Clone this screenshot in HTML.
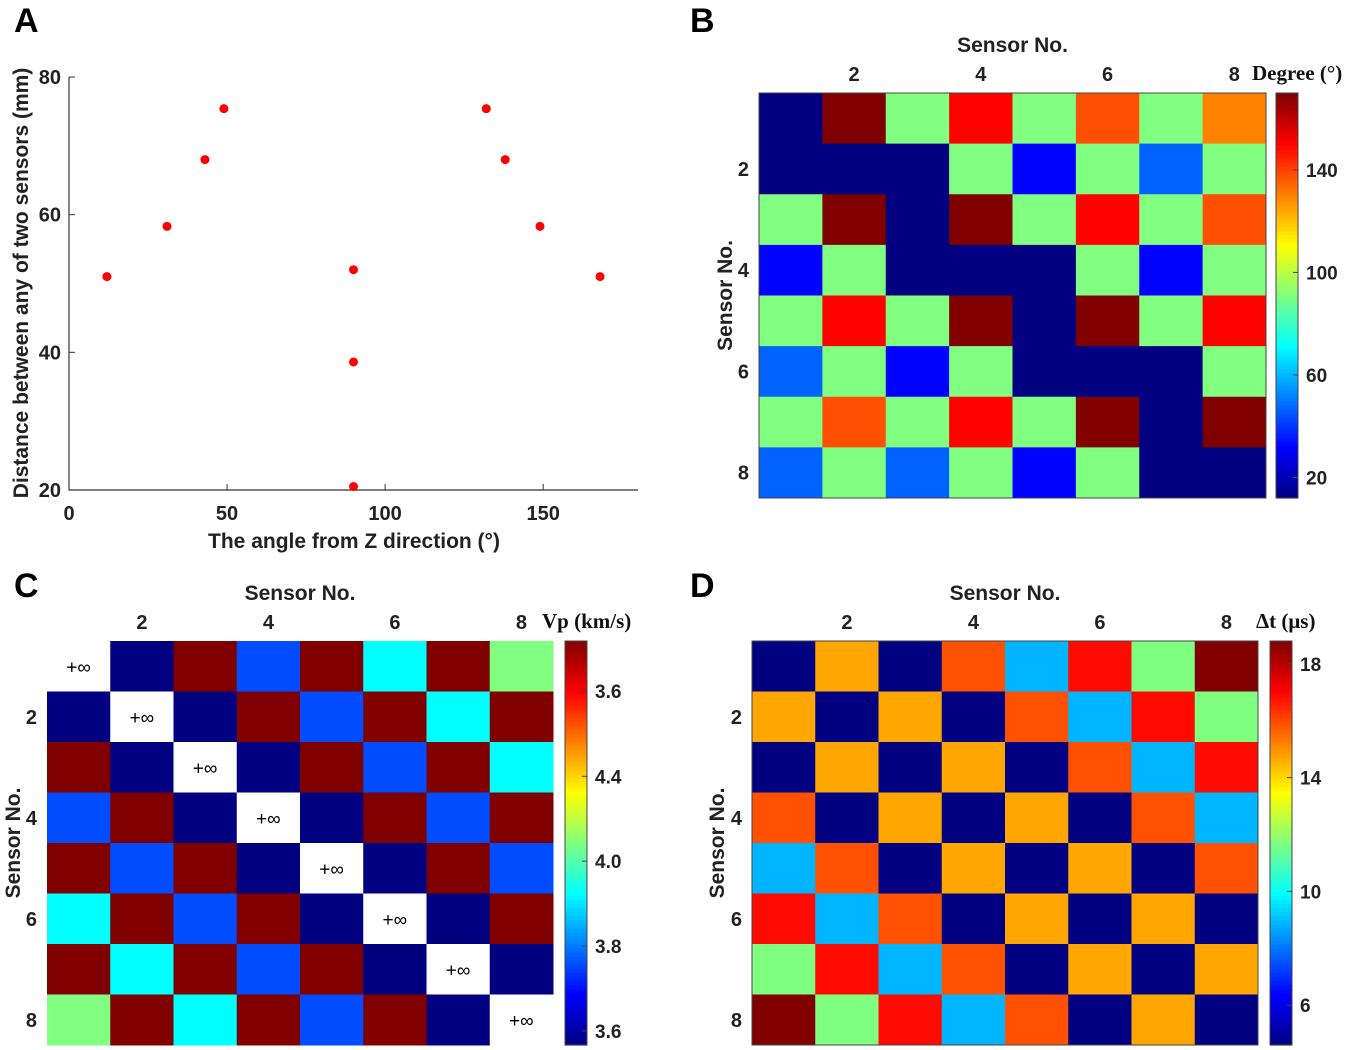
<!DOCTYPE html>
<html><head><meta charset="utf-8"><style>
html,body{margin:0;padding:0;background:#fff;}
svg{display:block;font-family:"Liberation Sans",Arial,sans-serif;font-weight:bold;}
.serif{font-family:"Liberation Serif",serif;font-weight:bold;}
</style></head><body>
<svg id="fig" width="1350" height="1050" viewBox="0 0 1350 1050"></svg>
<script>
// ---- Panel A data ----
const aAngles = [12, 31, 43, 49, 90, 90, 90, 132, 138, 149, 168];
const aDist = [51, 58.3, 68, 75.4, 52, 38.6, 20.5, 75.4, 68, 58.3, 51];
const aXTicks = [0, 50, 100, 150];
const aYTicks = [20, 40, 60, 80];
// ---- Panel B data (degrees) ----
const bRow1 = [12, 170, 91, 150, 91, 138, 91, 130];
const bRow2 = [12, 12, 12, 91, 32, 91, 47, 91];
const bRow3 = [91, 170, 12, 170, 91, 150, 91, 138];
const bRow4 = [32, 91, 12, 12, 12, 91, 32, 91];
const bRow5 = [91, 150, 91, 170, 12, 170, 91, 150];
const bRow6 = [47, 91, 32, 91, 12, 12, 12, 91];
const bRow7 = [91, 138, 91, 150, 91, 170, 12, 170];
const bRow8 = [47, 91, 47, 91, 32, 91, 12, 12];
const bTicks = [20, 60, 100, 140];
// ---- Panel C data (normalized colour level by sensor offset; diagonal = +inf) ----
const cOffsetLevels = [null, 0, 1, 0.2, 1, 0.375, 1, 0.5];
const cTickLabels = ["3.6", "3.8", "4.0", "4.4", "3.6"];
const cTickLevels = [0.035, 0.245, 0.455, 0.665, 0.876];
// ---- Panel D data (Δt µs by sensor offset) ----
const dOffsetValues = [4.6, 14.7, 4.6, 15.9, 8.9, 16.9, 11.7, 18.8];
const dTicks = [6, 10, 14, 18];
const sensorTicks = [2, 4, 6, 8];

const NS = "http://www.w3.org/2000/svg";
const svg = document.getElementById('fig');
function el(tag, attrs, parent, text){
  const e = document.createElementNS(NS, tag);
  for (const k in attrs) e.setAttribute(k, attrs[k]);
  if (text !== undefined) e.textContent = text;
  (parent || svg).appendChild(e);
  return e;
}
function jet(t){
  t = Math.max(0, Math.min(1, t));
  const c = v => Math.round(255 * Math.max(0, Math.min(1, v)));
  return `rgb(${c(1.5-Math.abs(4*t-3))},${c(1.5-Math.abs(4*t-2))},${c(1.5-Math.abs(4*t-1))})`;
}

[["A",14,32],["B",690,32],["C",14,597],["D",690,597]].forEach(p=>{
  const t = el('text',{x:p[1],y:p[2],'font-size':34},svg,p[0]);
  
  
});

// ---------- Panel A ----------
(function(){
  const g = el('g',{});
  
  
  const x0=69,x1=638,y0=490,y1=77;
  const sx = v => x0 + (v-0)/(180-0)*(x1-x0);
  const sy = v => y0 - (v-20)/(80-20)*(y0-y1);
  const ax = el('path',{d:`M${x0},${y1} L${x0},${y0} L${x1},${y0}`,stroke:'#333',fill:'none','stroke-width':1.2},g);
  
  
  aXTicks.forEach(v=>{
    el('line',{x1:sx(v),x2:sx(v),y1:y0,y2:y0-6,stroke:'#333'},g);
    const t=el('text',{x:sx(v),y:y0+30,'font-size':20,'text-anchor':'middle',fill:'#222'},g,String(v));
    
    
  });
  aYTicks.forEach(v=>{
    el('line',{x1:x0,x2:x0+6,y1:sy(v),y2:sy(v),stroke:'#333'},g);
    const t=el('text',{x:x0-8,y:sy(v)+7,'font-size':20,'text-anchor':'end',fill:'#222'},g,String(v));
    
    
  });
  const xt=el('text',{x:354,y:548,'font-size':21,'text-anchor':'middle',fill:'#222'},g,'The angle from Z direction (°)');
  
  
  const yt=el('text',{x:0,y:0,'font-size':21,'text-anchor':'middle',fill:'#222',transform:'translate(28,283) rotate(-90)'},g,'Distance between any of two sensors (mm)');
  
  
  aAngles.forEach((a,i)=>{
    const c=el('circle',{cx:sx(a),cy:sy(aDist[i]),r:4.5,fill:'#f00'},g);
    
    
  });
})();

function heatmap(opt){
  const g = el('g',{});
  
  
  const cw=(opt.x1-opt.x0)/8, ch=(opt.y1-opt.y0)/8;
  for(let r=0;r<8;r++)for(let c=0;c<8;c++){
    const col = opt.color(r,c);
    const rect=el('rect',{x:opt.x0+c*cw,y:opt.y0+r*ch,width:cw+0.5,height:ch+0.5,fill:col},g);
    
    
    if(opt.label){const L=opt.label(r,c); if(L){
      const t=el('text',{x:opt.x0+c*cw+cw/2,y:opt.y0+r*ch+ch/2+7,'font-size':19,'font-weight':'normal','text-anchor':'middle',fill:'#000'},g,L);
      
      
    }}
  }
  if(!opt.noBox) el('rect',{x:opt.x0,y:opt.y0,width:opt.x1-opt.x0,height:opt.y1-opt.y0,fill:'none',stroke:'#444','stroke-width':1},g);
  sensorTicks.forEach(s=>{
    const cx=opt.x0+(s-0.5)*cw, cy=opt.y0+(s-0.5)*ch;
    const t1=el('text',{x:cx,y:opt.y0-12,'font-size':20,'text-anchor':'middle',fill:'#222'},g,String(s));
    
    
    const t2=el('text',{x:opt.x0-10,y:cy+7,'font-size':20,'text-anchor':'end',fill:'#222'},g,String(s));
    
    
  });
  const tt=el('text',{x:(opt.x0+opt.x1)/2,y:opt.y0-41,'font-size':21,'text-anchor':'middle',fill:'#222'},g,'Sensor No.');
  
  
  const lt=el('text',{x:0,y:0,'font-size':21,'text-anchor':'middle',fill:'#222',transform:`translate(${opt.ytx},${(opt.y0+opt.y1)/2}) rotate(-90)`},g,'Sensor No.');
  
  
  const cb=el('g',{},g);
  
  
  const n=100, h=(opt.y1-opt.y0)/n;
  for(let i=0;i<n;i++) el('rect',{x:opt.cbx,y:opt.y1-(i+1)*h,width:22,height:h+0.6,fill:jet((i+0.5)/n)},cb);
  el('rect',{x:opt.cbx,y:opt.y0,width:22,height:opt.y1-opt.y0,fill:'none',stroke:'#444'},cb);
  opt.ticks.forEach(tk=>{
    const y=opt.y1-tk.t*(opt.y1-opt.y0);
    el('line',{x1:opt.cbx+22,x2:opt.cbx+17,y1:y,y2:y,stroke:'#444'},cb);
    const t=el('text',{x:opt.cbx+30,y:y+7,'font-size':19,fill:'#222'},cb,tk.label);
    
    
  });
  const ct=el('text',{x:opt.ctx,y:opt.y0-13,'font-size':21,fill:'#111'},cb,opt.cbTitle);
  ct.setAttribute('class','serif');
  
  
}

const bRows=[bRow1,bRow2,bRow3,bRow4,bRow5,bRow6,bRow7,bRow8];
const bMin=12, bMax=170;
heatmap({name:'panel-b-degree-heatmap',x0:759,x1:1266,y0:93,y1:498,ytx:732,cbx:1276,ctx:1252,cbTitle:'Degree (°)',
  color:(r,c)=>jet((bRows[r][c]-bMin)/(bMax-bMin)),
  ticks:bTicks.map(v=>({t:(v-bMin)/(bMax-bMin),label:String(v)}))});

heatmap({name:'panel-c-velocity-heatmap',x0:47,x1:553,y0:641,y1:1045,ytx:20,cbx:565,ctx:542,cbTitle:'Vp (km/s)',noBox:true,
  color:(r,c)=>{const l=cOffsetLevels[Math.abs(r-c)];return l===null?'#fff':jet(l);},
  label:(r,c)=>r===c?'+∞':null,
  ticks:cTickLabels.map((s,i)=>({t:cTickLevels[i],label:s}))});

const dMin=4.6, dMax=18.8;
heatmap({name:'panel-d-time-heatmap',x0:752,x1:1258,y0:641,y1:1045,ytx:724,cbx:1270,ctx:1256,cbTitle:'Δt (μs)',
  color:(r,c)=>jet((dOffsetValues[Math.abs(r-c)]-dMin)/(dMax-dMin)),
  ticks:dTicks.map(v=>({t:(v-dMin)/(dMax-dMin),label:String(v)}))});
</script>
</body></html>
